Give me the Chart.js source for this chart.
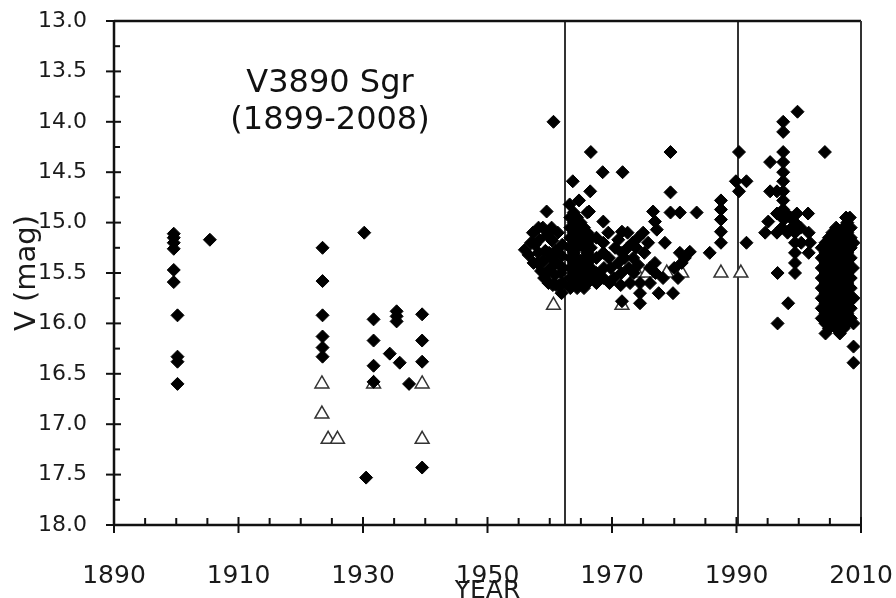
<!DOCTYPE html>
<html>
<head>
<meta charset="utf-8">
<script src="https://cdn.jsdelivr.net/npm/chart.js@4.4.1/dist/chart.umd.min.js"></script>
<style>
  html, body { margin: 0; padding: 0; background: #fff; }
  #wrap { width: 896px; height: 598px; }
</style>
</head>
<body>
<div id="wrap"><canvas id="c" width="896" height="598"></canvas></div>
<script>
// ---- data: [year, V magnitude] ----
const obs1899 = [[1899.6,15.11],[1899.6,15.15],[1899.6,15.20],[1899.6,15.26],[1899.6,15.47],[1899.6,15.59],
  [1900.2,15.92],[1900.2,16.33],[1900.2,16.38],[1900.2,16.60],[1905.4,15.17]];

const obs1923 = [[1923.5,15.25],[1923.5,15.58],[1923.5,15.92],[1923.5,16.13],[1923.5,16.24],[1923.5,16.33],
  [1930.2,15.10],[1930.5,17.53],[1931.7,15.96],[1931.7,16.17],[1931.7,16.42],[1931.7,16.58],
  [1935.4,15.88],[1935.4,15.93],[1935.4,15.98],[1934.3,16.30],[1935.9,16.39],[1937.4,16.60],
  [1939.5,15.91],[1939.5,16.17],[1939.5,16.38],[1939.5,17.43]];

const obs1955 = [[1956.0,15.27],[1956.6,15.32],[1957.3,15.10],[1957.4,15.40],[1957.6,15.22],[1958.2,15.05],
  [1958.3,15.17],[1958.2,15.30],[1958.6,15.48],[1959.0,15.38],[1959.3,15.28],[1959.5,14.89],[1959.6,15.12],
  [1959.8,15.60],[1959.5,15.50],[1960.1,15.45],[1960.3,15.05],[1960.4,15.18],[1960.3,15.35],[1960.6,14.00],
  [1960.9,15.28],[1960.8,15.52],[1961.1,15.40],[1961.3,15.10],[1961.5,15.62],[1961.8,15.50],[1961.9,15.70],
  [1961.9,15.33],[1962.0,15.22],[1961.0,15.62],[1957.0,15.20],[1958.9,15.05],[1959.9,15.30],[1960.5,15.62],
  [1962.1,15.45],[1962.1,15.60],[1958.0,15.40],[1959.1,15.55]];

const obs1962 = [[1963.3,14.95],[1964.4,14.95],[1963.3,15.05],[1964.4,15.05],[1965.5,15.05],
  [1963.3,15.15],[1964.4,15.15],[1965.5,15.15],[1966.6,15.15],[1963.3,15.25],[1964.4,15.25],[1965.5,15.25],[1966.6,15.25],
  [1963.3,15.35],[1964.4,15.35],[1965.5,15.35],[1966.6,15.35],[1963.3,15.45],[1964.4,15.45],[1965.5,15.45],[1966.6,15.45],
  [1963.3,15.55],[1964.4,15.55],[1965.5,15.55],[1966.6,15.55],[1963.3,15.65],[1964.4,15.65],[1965.5,15.65],
  [1963.85,14.90],[1966.05,14.90],[1963.85,15.00],[1964.95,15.00],[1963.85,15.10],[1964.95,15.10],[1966.05,15.10],
  [1963.85,15.20],[1964.95,15.20],[1966.05,15.20],[1963.85,15.30],[1966.05,15.30],
  [1963.85,15.40],[1964.95,15.40],[1966.05,15.40],[1963.85,15.50],[1964.95,15.50],[1966.05,15.50],
  [1963.85,15.60],[1964.95,15.60],[1966.05,15.60],
  [1967.5,15.15],[1967.5,15.35],[1967.5,15.50],[1967.5,15.60],
  [1963.7,14.59],[1966.5,14.69],[1964.7,14.78],[1966.3,14.89],[1966.6,14.30],[1963.2,14.82]];

const obs1968 = [[1968.5,14.50],[1971.7,14.50],[1968.6,14.99],[1968.6,15.20],[1968.6,15.30],[1968.7,15.45],
  [1968.6,15.55],[1969.4,15.10],[1969.5,15.35],[1969.6,15.60],[1970.3,15.55],[1970.5,15.25],[1971.0,15.17],
  [1971.0,15.40],[1971.6,15.09],[1971.6,15.30],[1971.5,15.50],[1971.4,15.62],[1971.6,15.78],[1972.5,15.10],
  [1972.5,15.25],[1972.7,15.45],[1972.9,15.60],[1973.3,15.20],[1973.4,15.35],[1973.5,15.50],[1974.2,15.15],
  [1974.2,15.42],[1974.5,15.60],[1974.5,15.70],[1974.5,15.80],[1975.0,15.10],[1975.2,15.30],[1975.8,15.20],
  [1976.1,15.45],[1976.1,15.60],[1976.6,14.89],[1976.9,14.99],[1977.2,15.07],[1976.9,15.40],[1977.0,15.50],
  [1977.5,15.70],[1978.5,15.20],[1978.2,15.55],[1979.4,14.30],[1979.4,14.70],[1979.4,14.90],[1980.9,14.90],
  [1979.8,15.70],[1980.0,15.45],[1980.6,15.55],[1980.9,15.30],[1981.2,15.40],[1981.7,15.35],[1982.5,15.29],
  [1983.6,14.90],[1985.7,15.30],[1987.5,14.78],[1987.5,14.87],[1987.5,14.97],[1987.5,15.09],[1987.5,15.20],
  [1969.8,15.45],[1972.0,15.35],[1973.9,15.25]];

const obs1990 = [[1990.4,14.30],[1989.9,14.59],[1991.6,14.59],[1990.4,14.69],[1991.6,15.20],
  [1994.6,15.10],[1995.1,14.99],[1995.4,14.40],[1995.4,14.69],[1996.5,14.69],[1996.5,14.91],[1996.5,15.10],
  [1996.6,15.50],[1996.6,16.00],[1997.5,14.00],[1997.5,14.10],[1997.5,14.30],[1997.5,14.40],[1997.5,14.50],
  [1997.5,14.59],[1997.5,14.69],[1997.5,14.78],[1997.5,14.87],[1997.6,14.97],[1997.3,15.05],
  [1998.0,14.91],[1998.2,15.10],[1998.3,15.80],[1999.4,15.00],[1999.4,15.10],[1999.4,15.20],[1999.4,15.30],
  [1999.4,15.40],[1999.4,15.50],[1999.7,14.91],[1999.8,13.90],[2001.5,14.91],[2001.6,15.10],[2001.8,15.20],
  [2001.6,15.30],[2004.2,14.30],[1998.7,14.95],[1998.9,15.05],[2000.3,15.05],[2000.4,15.20]];

const obs2003 = [[2007.6,14.95],[2008.2,14.95],
  [2006.0,15.05],[2007.2,15.05],[2008.35,15.05],
  [2004.85,15.15],[2006.0,15.15],[2007.2,15.15],[2008.35,15.15],
  [2003.7,15.25],[2004.85,15.25],[2006.0,15.25],[2007.2,15.25],[2008.35,15.25],
  [2003.7,15.35],[2004.85,15.35],[2006.0,15.35],[2007.2,15.35],[2008.35,15.35],
  [2003.7,15.45],[2004.85,15.45],[2006.0,15.45],[2007.2,15.45],[2008.35,15.45],
  [2003.7,15.55],[2004.85,15.55],[2006.0,15.55],[2007.2,15.55],[2008.35,15.55],
  [2003.7,15.65],[2004.85,15.65],[2006.0,15.65],[2007.2,15.65],[2008.35,15.65],
  [2003.7,15.75],[2004.85,15.75],[2006.0,15.75],[2007.2,15.75],[2008.35,15.75],
  [2003.7,15.85],[2004.85,15.85],[2006.0,15.85],[2007.2,15.85],[2008.35,15.85],
  [2003.7,15.95],[2004.85,15.95],[2006.0,15.95],[2007.2,15.95],[2008.35,15.95],
  [2004.85,16.05],[2006.0,16.05],[2007.2,16.05],
  [2007.8,15.00],[2005.4,15.10],[2006.6,15.10],[2007.8,15.10],
  [2004.3,15.20],[2005.4,15.20],[2006.6,15.20],[2007.8,15.20],
  [2004.3,15.30],[2005.4,15.30],[2006.6,15.30],[2007.8,15.30],
  [2004.3,15.40],[2005.4,15.40],[2006.6,15.40],[2007.8,15.40],
  [2004.3,15.50],[2005.4,15.50],[2006.6,15.50],[2007.8,15.50],
  [2004.3,15.60],[2005.4,15.60],[2006.6,15.60],[2007.8,15.60],
  [2004.3,15.70],[2005.4,15.70],[2006.6,15.70],[2007.8,15.70],
  [2004.3,15.80],[2005.4,15.80],[2006.6,15.80],[2007.8,15.80],
  [2004.3,15.90],[2005.4,15.90],[2006.6,15.90],[2007.8,15.90],
  [2004.3,16.00],[2005.4,16.00],[2006.6,16.00],[2007.8,16.00],
  [2004.3,16.10],[2006.6,16.10],
  [2008.8,15.20],[2008.7,15.45],[2008.8,15.75],[2008.8,16.00],[2008.8,16.23],[2008.8,16.39]];

// upper limits (open triangles)
const limits = [[1923.4,16.6],[1923.4,16.9],[1924.4,17.15],[1925.9,17.15],[1931.7,16.6],[1939.5,16.6],
  [1939.5,17.15],[1960.6,15.82],[1971.6,15.82],[1974.0,15.5],[1975.6,15.5],[1978.8,15.5],[1981.2,15.5],
  [1987.5,15.5],[1990.7,15.5]];

// vertical reference lines
const markerYears = [1962.4, 1990.3];
const titleLines = ['V3890 Sgr', '(1899-2008)'];

// ---- chart ----
const toPts = arr => arr.map(p => ({x: p[0], y: p[1]}));
const detections = [].concat(obs1899, obs1923, obs1955, obs1962, obs1968, obs1990, obs2003);

const FONT = "'DejaVu Sans', Verdana, sans-serif";

const framePlugin = {
  id: 'frame',
  beforeDatasetsDraw(chart) {
    const {ctx, chartArea: a, scales: {x}} = chart;
    ctx.save();
    ctx.strokeStyle = '#333';
    ctx.lineWidth = 2;
    markerYears.forEach(v => {
      const px = Math.round(x.getPixelForValue(v));
      ctx.beginPath(); ctx.moveTo(px, a.top); ctx.lineTo(px, a.bottom); ctx.stroke();
    });
    ctx.restore();
  },
  afterDatasetsDraw(chart) {
    const {ctx, chartArea: a, scales: {x, y}} = chart;
    ctx.save();
    ctx.strokeStyle = '#111';
    ctx.lineCap = 'butt';
    ctx.lineWidth = 2.5;
    ctx.beginPath(); ctx.moveTo(a.left, a.top); ctx.lineTo(a.right, a.top); ctx.stroke();
    ctx.lineWidth = 2;
    ctx.strokeStyle = '#333';
    ctx.beginPath(); ctx.moveTo(a.right, a.top); ctx.lineTo(a.right, a.bottom); ctx.stroke();
    ctx.strokeStyle = '#111';
    ctx.lineWidth = 2.5;
    ctx.beginPath(); ctx.moveTo(a.left, a.top - 1); ctx.lineTo(a.left, a.bottom + 1); ctx.stroke();
    ctx.beginPath(); ctx.moveTo(a.left - 1, a.bottom); ctx.lineTo(a.right + 1, a.bottom); ctx.stroke();
    ctx.lineWidth = 2;
    for (let v = 13; v <= 18.0001; v += 0.25) {
      const py = y.getPixelForValue(v);
      const major = Math.abs(v * 2 - Math.round(v * 2)) < 1e-6;
      ctx.beginPath();
      ctx.moveTo(major ? a.left - 8 : a.left, py);
      ctx.lineTo(a.left + (major ? 7 : 6), py);
      ctx.stroke();
    }
    for (let v = 1890; v <= 2010; v += 5) {
      const px = x.getPixelForValue(v);
      const major = (v - 1890) % 20 === 0;
      ctx.beginPath();
      ctx.moveTo(px, major ? a.bottom + 8 : a.bottom);
      ctx.lineTo(px, a.bottom - (major ? 8 : 7));
      ctx.stroke();
    }
    ctx.fillStyle = '#111';
    ctx.font = "32px " + FONT;
    ctx.textAlign = 'center';
    ctx.textBaseline = 'alphabetic';
    ctx.fillText(titleLines[0], 330, 92);
    ctx.fillText(titleLines[1], 330, 129);
    ctx.restore();
  }
};

new Chart(document.getElementById('c'), {
  type: 'scatter',
  data: {
    datasets: [
      {
        label: 'V',
        data: toPts(detections),
        pointStyle: 'rectRot',
        pointRadius: 6.5,
        pointBorderWidth: 1,
        backgroundColor: '#000',
        borderColor: '#000',
        clip: false
      },
      {
        label: 'limit',
        data: toPts(limits),
        pointStyle: 'triangle',
        pointRadius: 8,
        pointBorderWidth: 1.5,
        backgroundColor: '#fff',
        borderColor: '#333',
        clip: false
      }
    ]
  },
  options: {
    responsive: false,
    animation: false,
    events: [],
    layout: { padding: { top: 21, right: 35, bottom: 0, left: 0 } },
    plugins: { legend: { display: false }, tooltip: { enabled: false } },
    scales: {
      x: {
        type: 'linear',
        min: 1890, max: 2010,
        grid: { display: false },
        border: { display: false },
        ticks: { stepSize: 20, autoSkip: false, maxRotation: 0, padding: 28, color: '#1a1a1a',
                 font: { family: FONT, size: 25 }, callback: v => String(v) },
        title: { display: true, text: 'YEAR', color: '#1a1a1a', font: { family: FONT, size: 25 },
                 padding: { top: 0, bottom: -8 } },
        afterFit: s => { s.height = 73; s.paddingLeft = 0; s.paddingRight = 0; }
      },
      y: {
        type: 'linear',
        min: 13, max: 18, reverse: true,
        grid: { display: false },
        border: { display: false },
        ticks: { stepSize: 0.5, autoSkip: false, padding: 19, color: '#1a1a1a',
                 font: { family: FONT, size: 22 }, callback: v => v.toFixed(1) },
        title: { display: true, text: 'V (mag)', color: '#1a1a1a', font: { family: FONT, size: 29 },
                 padding: { top: 10, bottom: 0 } },
        afterFit: s => { s.width = 114; s.paddingTop = 0; s.paddingBottom = 0; }
      }
    }
  },
  plugins: [framePlugin]
});
</script>
</body>
</html>
